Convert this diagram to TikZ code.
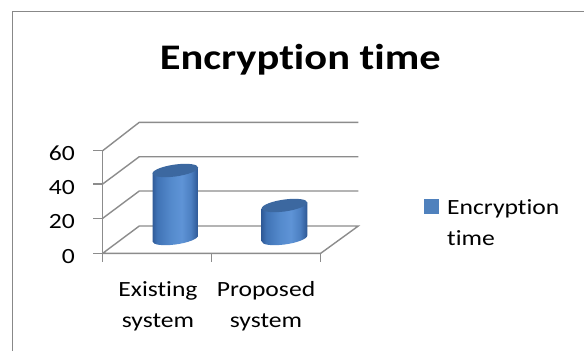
\documentclass[tikz,border=0pt]{standalone}
\usepackage{fontspec}
\setmainfont{Carlito}[Ligatures=NoCommon]
\usepackage{graphicx}
\definecolor{gridc}{RGB}{140,140,140}
\definecolor{framec}{RGB}{136,136,136}
\definecolor{cylT}{RGB}{60,104,160}
\definecolor{legc}{RGB}{79,129,189}
\pgfdeclarehorizontalshading{cylshade}{100bp}{
  rgb(0bp)=(0.19,0.36,0.60);
  rgb(25bp)=(0.19,0.36,0.60);
  rgb(30bp)=(0.25,0.45,0.71);
  rgb(45bp)=(0.33,0.54,0.80);
  rgb(57bp)=(0.37,0.58,0.84);
  rgb(67bp)=(0.30,0.50,0.76);
  rgb(72bp)=(0.22,0.40,0.65);
  rgb(75bp)=(0.18,0.34,0.57);
  rgb(100bp)=(0.18,0.34,0.57)}
\newcommand\lblfont{\fontsize{21.7}{31}\selectfont}
\newcommand\st[1]{\scalebox{1.18}[1]{#1}}
\begin{document}
\begin{tikzpicture}[x=1pt,y=-1pt,
  gridline/.style={draw=gridc,line width=1.4pt},
  lbl/.style={inner sep=0pt,font=\lblfont},
  cylbody/.style={shading=cylshade,draw=none},
  cyltop/.style={fill=cylT,draw=none}]
\useasboundingbox (0,0) rectangle (584,351);
\fill[white] (0,0) rectangle (584,351);
% frame
\draw[framec,line width=1.4pt] (12.3,351) -- (12.3,11.7) -- (584,11.7);
% title
\node[inner sep=0pt,anchor=base,font=\fontsize{36}{40}\selectfont\bfseries] (title) at (300.3,69) {\st{Encryption time}};
% grid coordinates
\foreach \v/\yf/\yb in {0/253.3/226,1/218.3/191,2/184/156.7,3/150.7/122.3}{
  \coordinate (f\v) at (102.7,\yf);
  \coordinate (b\v) at (139.3,\yb);
  \coordinate (e\v) at (358.3,\yb);
  \coordinate (t\v) at (93.3,\yf);
}
\coordinate (fr) at (320.7,253.3);
\coordinate (xm) at (211.7,253.3);
\coordinate (d0) at (102.7,262);
\coordinate (d1) at (211.7,262);
\coordinate (d2) at (320.7,262);
\foreach \v in {1,2,3}{\draw[gridline] (f\v) -- (b\v) -- (e\v);}
\draw[gridline] (f0) -- (b0) -- (e0) -- (fr) -- (f0);
\draw[gridline] (f0) -- (f3);
\foreach \v in {0,1,2,3}{\draw[gridline] (t\v) -- (f\v);}
\draw[gridline] (f0) -- (d0);
\draw[gridline] (xm) -- (d1);
\draw[gridline] (fr) -- (d2);
% axis labels
\node[lbl,anchor=base east] (l0) at (75,263.3) {\st{0}};
\node[lbl,anchor=base east] (l20) at (75,228.3) {\st{20}};
\node[lbl,anchor=base east] (l40) at (75,194) {\st{40}};
\node[lbl,anchor=base east] (l60) at (75,160.7) {\st{60}};
% cylinders
\begin{scope}[shift={(175.3,0)},yslant=0.13]
\path[cylbody] (-22.8,170.5) -- (-22.8,238.5) arc[start angle=180,end angle=360,x radius=22.8pt,y radius=6pt] -- (22.8,170.5) -- cycle;
\path[cyltop] (0,170.5) ellipse[x radius=22.8pt,y radius=6pt];
\end{scope}
\begin{scope}[shift={(284.5,0)},yslant=0.13]
\path[cylbody] (-22.8,205.5) -- (-22.8,238.5) arc[start angle=180,end angle=360,x radius=22.8pt,y radius=6pt] -- (22.8,205.5) -- cycle;
\path[cyltop] (0,205.5) ellipse[x radius=22.8pt,y radius=6pt];
\end{scope}
% categories
\node[lbl,anchor=base] (c1) at (158,296) {\st{\begin{tabular}[t]{@{}c@{}}Existing\\system\end{tabular}}};
\node[lbl,anchor=base] (c2) at (266,296) {\st{\begin{tabular}[t]{@{}c@{}}Proposed\\system\end{tabular}}};
% legend
\fill[legc] (424,199.3) rectangle (439,214);
\node[lbl,anchor=base west] (leg) at (447,214) {\st{\begin{tabular}[t]{@{}l@{}}Encryption\\time\end{tabular}}};
\end{tikzpicture}
\end{document}
